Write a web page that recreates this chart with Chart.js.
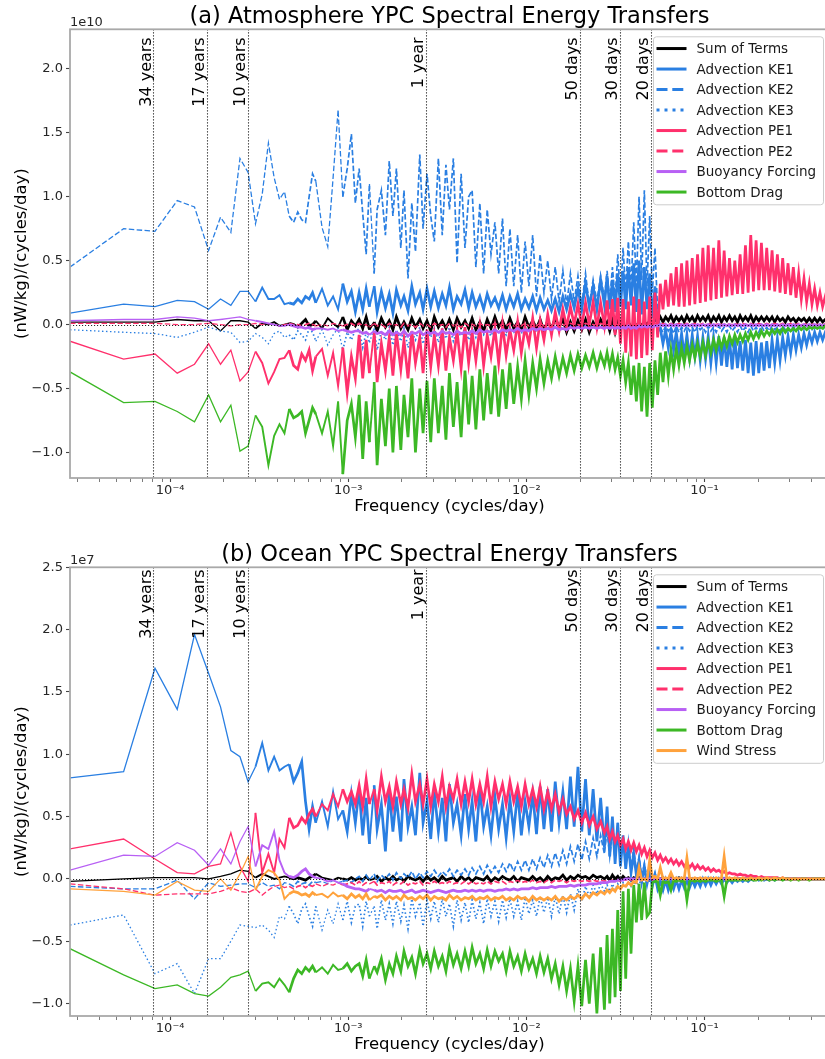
<!DOCTYPE html>
<html lang="en">
<head>
    <meta charset="UTF-8">
    <title>YPC Spectral Energy Transfers</title>
    <script src="https://cdn.jsdelivr.net/npm/chart.js"></script>
    <style>
        body {
            margin: 0;
            background: white;
            overflow: hidden;
        }
        .panel {
            width: 832px;
        }
        canvas {
            display: block;
        }
    </style>
</head>
<body>
    <div class="panel"><canvas id="atmChart" width="832" height="530"></canvas></div>
    <div class="panel"><canvas id="ocnChart" width="832" height="529"></canvas></div>

    <script>
        // frequency bins k (frequency = k / RECORD_DAYS cycles/day), 100-year record
        const RECORD_DAYS = 36500;
        const freqBins = [
            1,2,3,4,5,6,7,8,9,10,11,12,13,14,15,16,17,18,19,20,21,22,23,24,
            26,28,30,32,34,36,38,40,
            42,44,46,48,51,53,56,59,62,65,
            68,72,75,79,83,87,92,96,101,106,
            111,117,123,129,135,142,149,157,165,173,
            181,190,200,210,220,231,243,255,268,281,
            295,310,326,342,359,377,396,416,436,458,
            481,505,530,557,585,614,645,677,711,747,
            784,823,865,908,953,1001,
            1036,1072,1110,1149,1189,1231,1274,1318,1364,1412,
            1462,1513,1566,1620,1677,1736,1797,1859,1924,1992,
            2061,2134,2208,2286,2366,2448,2534,2623,2714,2809,
            2908,3009,3115,3224,3336,3453,3574,3699,3829,3963,
            4101,4245,4393,4547,4706,4871,5041,5218,5400,5589,
            5785,5987,6197,6414,6638,6870,7111,7360,7617,7884,
            8160,8445,8741,9047,9363,9691,10030,10381,10745,11121,
            11510,11913,12330,12761,13208,13670,14148,14643,15156,15686,
            16235,16804,17392,18000,18250
        ];

        // ---- (a) Atmosphere, hundredths of 1e10 (nW/kg)/(cycles/day) ----
        const atmSum = [
            2,2,2,4,3,3,-5,3,3,2,-3,1,0,2,-1,0,1,0,-2,1,4,-1,0,3,
            -3,5,1,-2,6,-4,3,-1,
            4,-3,6,-4,2,-5,5,-2,3,-4,
            6,-3,2,-4,5,-2,4,-3,3,-5,
            6,-2,3,-3,4,-4,5,-2,3,-3,
            5,-4,2,-5,4,-3,6,-2,3,-4,
            5,-3,2,-4,6,-2,3,-3,4,-5,
            3,-3,5,-2,4,-6,2,-5,3,-4,
            4,-6,2,-3,4,-2,
            2,-5,3,-6,2,-4,1,-3,2,-2,
            1,-1,2,-1,2,0,3,1,4,2,
            6,2,6,3,7,2,6,3,6,2,
            7,3,6,2,7,3,6,3,7,2,
            6,3,7,2,6,3,7,3,6,2,
            7,3,6,3,7,2,6,3,6,3,
            6,3,6,2,6,3,5,2,6,3,
            5,2,5,3,5,2,5,2,5,2,
            5,2,4,2,3
        ];
        const atmKE1 = [
            9,16,14,19,18,12,20,15,26,26,18,29,20,20,23,16,17,16,20,17,22,20,25,17,
            28,15,22,12,32,18,26,10,
            25,12,28,14,30,10,26,13,24,9,
            27,15,22,11,30,16,25,12,28,14,
            26,13,24,15,29,12,22,16,27,13,
            25,14,22,12,24,15,21,13,23,12,
            22,14,24,12,20,13,22,11,21,12,
            19,11,20,10,22,12,24,13,28,12,
            32,14,30,12,35,15,
            38,12,35,10,40,14,42,12,45,15,
            48,10,50,8,45,12,40,5,30,-5,
            -3,-15,-4,-18,-5,-20,-6,-22,-7,-24,
            -8,-26,-8,-25,-9,-28,-10,-27,-9,-30,
            -10,-30,-9,-32,-10,-33,-11,-35,-10,-34,
            -13,-36,-12,-38,-14,-40,-13,-38,-14,-36,
            -13,-34,-12,-30,-11,-28,-10,-24,-9,-22,
            -8,-20,-8,-18,-7,-16,-7,-14,-6,-13,
            -6,-12,-6,-11,-8
        ];
        const atmKE2 = [
            45,75,73,97,92,58,84,72,130,119,79,102,142,115,98,104,85,80,88,82,80,100,118,112,
            76,61,115,168,100,122,149,95,
            122,87,55,110,40,90,105,70,128,85,
            122,60,105,36,95,57,133,75,118,85,
            65,130,70,125,90,130,48,118,60,100,
            105,45,95,40,90,55,80,40,83,30,
            75,30,70,25,65,30,70,22,55,25,
            50,20,45,18,42,15,40,18,38,15,
            40,15,35,18,38,20,
            42,18,45,20,55,22,60,25,65,28,
            80,30,100,35,105,30,85,25,60,10,
            -2,-6,-1,-5,-2,-7,-1,-6,-2,-5,
            -1,-5,-2,-6,-1,-4,-2,-6,-1,-5,
            -2,-6,-1,-5,-2,-6,-1,-5,-2,-6,
            -1,-5,-2,-6,-1,-5,-2,-6,-1,-5,
            -2,-5,-1,-4,-2,-5,-1,-4,-2,-5,
            -1,-4,-2,-4,-1,-4,-2,-4,-1,-3,
            -2,-4,-1,-3,-2
        ];
        const atmKE3 = [
            -4,-6,-7,-10,-6,-2,-5,-6,-14,-13,-7,-10,-15,-7,-5,-10,-8,-12,-5,-8,-12,-3,-6,-13,
            -4,-16,-8,-3,-20,-6,-12,-4,
            -4,-18,-6,-14,-3,-20,-5,-12,-2,-16,
            -4,-13,-3,-18,-6,-12,-2,-15,-5,-10,
            -3,-14,-4,-11,-2,-13,-5,-9,-3,-12,
            -3,-10,-2,-8,-4,-9,-2,-7,-3,-8,
            -2,-6,-3,-7,-1,-5,-2,-6,-1,-4,
            -2,-4,-1,-3,-2,-4,-1,-3,-1,-2,
            -1,-3,0,-2,-1,-2,
            -1,-2,-1,-2,-1,-2,-1,-2,-1,-2,
            -1,-2,-1,-2,-1,-2,-1,-2,-1,-1,
            0,-1,0,-1,0,-1,0,-1,0,-1,
            0,-1,0,-1,0,-1,0,-1,0,-1,
            0,-1,0,-1,0,-1,0,-1,0,-1,
            0,-1,0,-1,0,-1,0,-1,0,-1,
            0,-1,0,-1,0,-1,0,-1,0,-1,
            0,-1,0,-1,0,-1,0,-1,0,-1,
            0,-1,0,-1,0
        ];
        const atmPE1 = [
            -13,-27,-23,-38,-31,-15,-31,-20,-44,-37,-21,-30,-46,-37,-27,-26,-20,-32,-35,-23,-28,-20,-36,-25,
            -19,-40,-22,-48,-18,-53,-25,-42,
            -8,-42,-12,-38,-5,-45,-15,-36,-10,-40,
            -6,-35,-12,-42,-5,-30,-10,-38,-4,-33,
            -8,-32,-3,-36,-10,-28,-5,-34,-2,-30,
            -6,-28,-2,-32,-8,-25,-3,-30,0,-24,
            -4,-20,2,-22,-2,-15,5,-18,3,-12,
            8,-8,10,-5,12,-2,14,0,16,-1,
            17,0,18,-2,17,-1,
            19,-3,20,-8,21,-15,20,-22,18,-25,
            22,-27,20,-26,18,-24,22,-20,25,-10,
            32,12,35,14,40,15,45,14,48,14,
            50,15,52,16,55,17,60,18,62,19,
            60,20,66,21,58,22,52,23,50,24,
            55,24,62,25,70,26,66,27,64,27,
            60,27,58,26,55,25,52,24,48,23,
            45,21,40,20,36,18,32,16,28,15,
            25,14,22,13,17
        ];
        const atmPE2 = [
            1,1,1,0,0,1,0,-1,0,0,1,0,1,0,-1,0,1,0,0,-1,0,1,0,-1,
            0,-1,1,0,-1,0,1,-1,
            1,-1,0,-2,1,-1,0,-2,1,-1,
            0,-2,1,-1,0,-2,1,-1,0,-2,
            1,-1,0,-2,1,-1,0,-2,1,-1,
            0,-1,1,-1,0,-1,1,-1,0,-1,
            1,-1,0,-1,1,-1,0,-1,1,-1,
            0,-1,1,0,0,-1,1,0,0,-1,
            1,0,0,-1,1,0,
            0,-1,1,0,0,-1,1,0,0,-1,
            1,0,0,-1,1,0,0,-1,1,0,
            0,1,0,0,1,0,0,1,0,0,
            1,0,0,1,0,0,1,0,0,1,
            0,0,1,0,0,1,0,0,1,0,
            0,1,0,0,1,0,0,1,0,0,
            1,0,0,1,0,0,1,0,0,1,
            0,0,1,0,0,1,0,0,1,0,
            0,1,0,0,1
        ];
        const atmBuoy = [
            3,4,4,6,5,3,4,5,6,4,3,2,1,0,-1,-1,0,-1,-2,-2,-3,-2,-4,-3,
            -3,-4,-3,-5,-4,-5,-6,-5,
            -5,-7,-6,-8,-5,-7,-6,-8,-5,-8,
            -6,-8,-5,-9,-6,-7,-5,-8,-6,-7,
            -6,-8,-5,-7,-6,-8,-5,-7,-6,-7,
            -5,-7,-4,-6,-5,-6,-4,-6,-4,-5,
            -4,-5,-3,-5,-4,-5,-3,-4,-3,-4,
            -3,-4,-2,-4,-3,-4,-2,-3,-2,-3,
            -2,-3,-2,-3,-2,-3,
            -2,-3,-2,-3,-2,-3,-2,-3,-1,-3,
            -2,-3,-1,-2,-1,-2,-1,-2,-1,-1,
            0,-1,0,-1,0,-1,0,-1,0,-1,
            0,-1,0,-1,0,-1,0,-1,0,-1,
            0,-1,0,-1,0,-1,0,-1,0,-1,
            0,-1,0,-1,0,-1,0,-1,0,-1,
            0,-1,0,-1,0,-1,0,-1,0,-1,
            0,-1,0,-1,0,-1,0,-1,0,-1,
            0,-1,0,-1,0
        ];
        const atmDrag = [
            -37,-61,-60,-68,-76,-55,-76,-63,-99,-95,-71,-80,-110,-87,-78,-85,-66,-73,-71,-68,-85,-75,-65,-70,
            -85,-68,-95,-60,-117,-75,-62,-88,
            -55,-105,-60,-92,-45,-110,-58,-95,-50,-100,
            -48,-98,-55,-88,-42,-100,-50,-85,-44,-92,
            -42,-85,-48,-90,-38,-80,-45,-88,-36,-78,
            -40,-82,-35,-75,-38,-70,-32,-72,-35,-66,
            -30,-62,-33,-58,-28,-55,-30,-50,-27,-46,
            -28,-42,-25,-40,-26,-38,-24,-36,-23,-34,
            -24,-33,-22,-34,-23,-32,
            -22,-33,-23,-35,-26,-40,-28,-45,-30,-55,
            -32,-60,-30,-68,-33,-72,-30,-65,-28,-55,
            -22,-45,-21,-40,-20,-35,-19,-32,-18,-30,
            -17,-28,-16,-26,-15,-25,-14,-24,-13,-22,
            -12,-20,-11,-18,-10,-17,-9,-15,-8,-14,
            -8,-13,-7,-12,-6,-11,-6,-10,-5,-9,
            -5,-8,-4,-7,-4,-7,-3,-6,-3,-5,
            -3,-5,-2,-4,-2,-4,-2,-3,-2,-3,
            -2,-3,-1,-2,-2
        ];

        // ---- (b) Ocean, hundredths of 1e7 (nW/kg)/(cycles/day) ----
        const ocnSum = [
            -2,0,1,1,1,0,2,4,7,6,1,4,2,0,1,2,1,0,1,0,-1,1,2,4,
            1,0,-1,1,0,-1,1,-1,
            1,-1,2,-1,0,2,-2,1,-1,2,
            -1,1,-2,2,0,-1,1,-2,2,-1,
            1,-2,2,-1,0,1,-2,2,-1,1,
            -2,1,0,-1,2,-2,1,-1,2,0,
            -1,2,-2,1,0,-1,2,-1,1,-2,
            2,-1,1,0,3,-1,2,0,3,1,
            2,0,3,1,2,0,
            2,-1,3,0,2,-1,2,0,1,-1,
            1,0,1,-1,0,1,-1,0,1,0,
            0,1,0,0,1,0,0,1,0,0,
            0,0,0,0,0,0,0,0,0,0,
            0,0,0,0,0,0,0,0,0,0,
            0,0,0,0,0,0,0,0,0,0,
            0,0,0,0,0,0,0,0,0,0,
            0,0,0,0,0,0,0,0,0,0,
            0,0,0,0,0
        ];
        const ocnKE1 = [
            81,86,169,136,196,165,138,103,98,78,90,109,87,98,87,90,92,78,85,94,62,40,58,45,
            62,42,70,48,55,38,68,45,
            72,35,65,28,75,40,60,22,70,38,
            66,30,80,42,58,35,85,45,62,32,
            70,38,65,30,76,45,60,35,68,40,
            62,30,72,42,58,35,66,40,60,33,
            64,38,70,35,62,42,68,36,74,40,
            72,38,78,45,70,40,82,42,90,38,
            80,35,72,30,65,25,
            58,18,50,12,45,10,35,8,28,5,
            20,3,15,-2,10,-4,6,-6,3,-8,
            -2,-9,-1,-9,-2,-8,-1,-8,-1,-7,
            -1,-7,-1,-6,-1,-6,0,-5,0,-5,
            0,-4,0,-4,0,-3,0,-3,0,-2,
            0,-2,0,-2,0,-1,0,-1,0,-1,
            0,-1,0,-1,0,0,0,0,0,0,
            0,0,0,0,0,0,0,0,0,0,
            0,0,0,0,0
        ];
        const ocnKE2 = [
            -6,-8,-8,-1,-16,-3,-6,-5,-4,-4,-7,-3,-6,-5,-8,-3,-4,-6,-2,-4,-3,-5,-2,-3,
            -2,-4,-1,-3,-2,-1,-3,0,
            2,-2,3,-1,4,-2,3,0,4,-1,
            5,0,4,1,6,0,5,1,6,2,
            7,2,6,3,8,2,7,3,8,3,
            9,4,10,4,11,5,10,5,12,6,
            13,6,14,7,15,7,16,8,17,9,
            19,10,21,11,23,12,26,14,28,15,
            30,16,33,18,35,20,
            40,18,38,15,45,12,35,10,30,8,
            25,5,18,2,12,0,8,-1,5,-2,
            -1,-3,-1,-3,-1,-2,-1,-2,-1,-2,
            -1,-2,-1,-2,-1,-2,-1,-2,-1,-2,
            0,-1,0,-1,0,-1,0,-1,0,-1,
            0,-1,0,-1,0,-1,0,-1,0,-1,
            0,0,0,0,0,0,0,0,0,0,
            0,0,0,0,0,0,0,0,0,0,
            0,0,0,0,0
        ];
        const ocnKE3 = [
            -37,-29,-76,-68,-92,-64,-64,-50,-37,-38,-39,-37,-41,-47,-30,-32,-22,-28,-36,-24,-20,-30,-38,-22,
            -41,-25,-36,-20,-33,-18,-35,-22,
            -20,-38,-18,-30,-22,-40,-17,-33,-20,-36,
            -18,-34,-21,-40,-16,-30,-19,-38,-17,-32,
            -18,-35,-16,-30,-20,-38,-17,-33,-19,-35,
            -17,-32,-19,-36,-16,-30,-18,-34,-17,-31,
            -16,-30,-18,-33,-15,-28,-17,-30,-14,-27,
            -15,-30,-14,-28,-13,-27,-12,-25,-8,-18,
            -6,-14,-5,-12,-4,-10,
            -5,-10,-4,-9,-4,-8,-3,-7,-3,-6,
            -2,-5,-2,-4,-2,-3,-1,-3,-1,-2,
            -1,0,-1,0,-1,0,-1,0,-1,0,
            -1,0,-1,0,-1,0,-1,0,-1,0,
            0,0,0,0,0,0,0,0,0,0,
            0,0,0,0,0,0,0,0,0,0,
            0,0,0,0,0,0,0,0,0,0,
            0,0,0,0,0,0,0,0,0,0,
            0,0,0,0,0
        ];
        const ocnPE1 = [
            24,32,16,5,4,10,12,37,10,-2,53,5,20,5,32,25,49,41,43,49,45,52,56,50,
            60,55,68,58,72,62,70,60,
            75,58,80,60,72,55,82,62,74,58,
            78,60,72,57,84,62,76,60,80,58,
            76,62,82,58,74,64,80,60,78,62,
            80,60,76,62,82,58,78,64,76,60,
            78,62,74,58,76,60,72,58,74,56,
            70,56,68,54,64,52,58,48,55,45,
            53,43,50,40,46,37,
            42,32,38,30,35,27,32,24,30,23,
            29,22,27,20,25,18,23,17,21,15,
            19,14,17,13,16,12,15,11,14,10,
            13,9,12,8,11,8,10,7,9,6,
            8,6,7,5,6,4,5,4,4,3,
            4,3,3,2,3,2,2,1,2,1,
            1,1,1,1,1,0,1,0,0,0,
            0,0,0,0,0,0,0,0,0,0,
            0,0,0,0,0
        ];
        const ocnPE2 = [
            -4,-8,-13,-12,-12,-12,-10,-7,-10,-11,-8,-13,-9,-6,-5,-7,-6,-8,-6,-5,-7,-5,-6,-4,
            -6,-4,-5,-3,-5,-4,-3,-5,
            -2,-5,-3,-4,-2,-5,-3,-4,-2,-5,
            -3,-4,-2,-5,-3,-4,-2,-5,-3,-4,
            -2,-4,-3,-4,-2,-4,-3,-4,-2,-4,
            -2,-4,-3,-4,-2,-4,-2,-3,-2,-4,
            -2,-3,-1,-3,-2,-3,-1,-3,-2,-3,
            -1,-3,-1,-2,-1,-3,-1,-2,-1,-2,
            -1,-2,-1,-2,-1,-2,
            -1,-2,-1,-2,-1,-2,-1,-1,0,-1,
            0,-1,0,-1,0,-1,0,-1,0,0,
            0,0,0,0,0,0,0,0,0,0,
            0,0,0,0,0,0,0,0,0,0,
            0,0,0,0,0,0,0,0,0,0,
            0,0,0,0,0,0,0,0,0,0,
            0,0,0,0,0,0,0,0,0,0,
            0,0,0,0,0,0,0,0,0,0,
            0,0,0,0,0
        ];
        const ocnBuoy = [
            7,19,18,29,23,11,24,12,30,42,10,27,24,38,15,5,2,1,3,6,8,4,2,1,
            0,-2,-1,-3,-4,-6,-7,-8,
            -8,-9,-10,-8,-9,-10,-9,-11,-9,-10,
            -10,-9,-11,-10,-9,-11,-10,-9,-10,-11,
            -10,-9,-10,-11,-10,-9,-10,-10,-9,-10,
            -9,-10,-9,-10,-9,-9,-10,-9,-9,-8,
            -9,-8,-9,-8,-8,-8,-7,-8,-7,-7,
            -7,-6,-7,-6,-6,-6,-5,-6,-5,-5,
            -5,-4,-4,-4,-3,-3,
            -3,-2,-2,-2,-1,-1,-1,0,0,0,
            0,0,0,0,0,0,0,0,0,0,
            0,0,0,0,0,0,0,0,0,0,
            0,0,0,0,0,0,0,0,0,0,
            0,0,0,0,0,0,0,0,0,0,
            0,0,0,0,0,0,0,0,0,0,
            0,0,0,0,0,0,0,0,0,0,
            0,0,0,0,0,0,0,0,0,0,
            0,0,0,0,0
        ];
        const ocnDrag = [
            -56,-77,-88,-85,-92,-94,-87,-79,-77,-74,-90,-84,-83,-87,-80,-85,-91,-80,-73,-76,-71,-74,-70,-75,
            -71,-76,-69,-73,-72,-68,-74,-70,
            -68,-78,-65,-80,-70,-75,-64,-81,-68,-76,
            -62,-74,-58,-70,-63,-76,-57,-68,-60,-72,
            -58,-70,-62,-74,-56,-69,-60,-72,-58,-70,
            -55,-68,-60,-72,-57,-70,-58,-66,-60,-74,
            -58,-70,-62,-74,-60,-72,-64,-76,-62,-75,
            -64,-80,-68,-85,-70,-90,-72,-98,-70,-102,
            -65,-100,-60,-108,-55,-105,
            -45,-100,-40,-95,-25,-90,-10,-80,-8,-60,
            -5,-35,-4,-33,-3,-30,-27,-3,-2,-2,
            -13,-2,-3,-2,-9,-1,-2,-1,-2,-1,
            -17,-2,-1,-2,-1,-2,-1,-2,-1,-1,
            -1,-2,-1,-1,-14,-1,-1,-1,-1,-1,
            -1,0,-1,-1,0,-1,-1,0,-1,0,
            0,-1,0,-1,0,0,-1,0,0,-1,
            0,0,-1,0,0,0,-1,0,0,0,
            0,0,0,0,0
        ];
        const ocnWind = [
            -8,-10,-13,-2,-9,-10,0,-9,4,18,-9,2,7,5,-1,-16,-12,-10,-11,-13,-12,-14,-11,-13,
            -12,-15,-11,-14,-13,-16,-12,-15,
            -13,-16,-12,-17,-14,-15,-13,-17,-14,-16,
            -14,-17,-13,-16,-15,-17,-14,-16,-13,-17,
            -14,-16,-15,-17,-13,-16,-14,-17,-15,-16,
            -14,-17,-15,-16,-14,-17,-15,-16,-14,-17,
            -15,-17,-14,-16,-15,-18,-14,-17,-15,-17,
            -15,-17,-14,-18,-15,-17,-14,-16,-13,-16,
            -12,-15,-11,-13,-10,-12,
            -9,-11,-8,-10,-6,-8,-5,-6,-3,-5,
            -2,-3,9,-1,0,-1,15,1,2,0,
            9,0,1,0,5,0,1,0,1,0,
            17,1,0,1,0,1,0,1,0,1,
            0,1,0,1,18,0,1,0,1,0,
            0,1,0,0,1,0,0,1,0,0,
            1,0,0,1,0,0,1,0,0,0,
            0,0,0,0,0,0,0,0,0,0,
            0,0,0,0,0
        ];

        // reference periods (days) marked with dotted lines
        const markerDays = [12410, 6205, 3650, 365, 50, 30, 20];
        const markerLabels = ["34 years", "17 years", "10 years", "1 year", "50 days", "30 days", "20 days"];

        const xMajorTicks = [1e-4, 1e-3, 1e-2, 1e-1];
        const xMajorLabels = ["10\u207B\u2074", "10\u207B\u00B3", "10\u207B\u00B2", "10\u207B\u00B9"];

        const FONT = "DejaVu Sans";
        const BLUE = "#2a7fe2", PINK = "#ff306c", PURPLE = "#b860f4", GREEN = "#3cb825", ORANGE = "#ffa23c";

        const atmSeries = [
            {label: "Sum of Terms", values: atmSum, color: "#000000", style: "solid"},
            {label: "Advection KE1", values: atmKE1, color: BLUE, style: "solid"},
            {label: "Advection KE2", values: atmKE2, color: BLUE, style: "dashed"},
            {label: "Advection KE3", values: atmKE3, color: BLUE, style: "dotted"},
            {label: "Advection PE1", values: atmPE1, color: PINK, style: "solid"},
            {label: "Advection PE2", values: atmPE2, color: PINK, style: "dashed"},
            {label: "Buoyancy Forcing", values: atmBuoy, color: PURPLE, style: "solid"},
            {label: "Bottom Drag", values: atmDrag, color: GREEN, style: "solid"}
        ];
        const ocnSeries = [
            {label: "Sum of Terms", values: ocnSum, color: "#000000", style: "solid"},
            {label: "Advection KE1", values: ocnKE1, color: BLUE, style: "solid"},
            {label: "Advection KE2", values: ocnKE2, color: BLUE, style: "dashed"},
            {label: "Advection KE3", values: ocnKE3, color: BLUE, style: "dotted"},
            {label: "Advection PE1", values: ocnPE1, color: PINK, style: "solid"},
            {label: "Advection PE2", values: ocnPE2, color: PINK, style: "dashed"},
            {label: "Buoyancy Forcing", values: ocnBuoy, color: PURPLE, style: "solid"},
            {label: "Bottom Drag", values: ocnDrag, color: GREEN, style: "solid"},
            {label: "Wind Stress", values: ocnWind, color: ORANGE, style: "solid"}
        ];

        const lineDash = {solid: [], dashed: [5.5, 2.4], dotted: [1.5, 2.5]};
        const legendDash = {solid: [], dashed: [11, 4.8], dotted: [3, 5]};

        function toPoints(values) {
            if (values.length !== freqBins.length) {
                throw new Error("series length " + values.length + " != " + freqBins.length);
            }
            return freqBins.map((k, i) => ({x: k / RECORD_DAYS, y: values[i] / 100}));
        }

        function buildXTicks(min, max) {
            const ticks = [];
            const decades = [1e-5].concat(xMajorTicks);
            decades.forEach(d => {
                for (let m = 1; m <= 9; m++) {
                    const v = m * d;
                    if (v >= min && v <= max) {
                        const idx = m === 1 ? xMajorTicks.indexOf(d) : -1;
                        ticks.push({value: v, major: idx >= 0, label: idx >= 0 ? xMajorLabels[idx] : ""});
                    }
                }
            });
            return ticks;
        }

        // where the spectrum is dense the original looks almost filled: draw those stretches heavier
        function segmentWidth(style) {
            return ctx => {
                const dx = Math.abs(ctx.p1.x - ctx.p0.x);
                if (style === "solid") {
                    if (dx < 4.5) return 2.7;
                    if (dx < 7) return 1.9;
                } else if (dx < 4.5) {
                    return 1.7;
                }
                return undefined;
            };
        }

        // dotted reference lines, labels, spines, offset text and the boxed legend
        const decorations = {
            id: "decorations",
            afterDatasetsDraw(chart, args, opts) {
                const {ctx, chartArea: a, scales: {x, y}} = chart;
                ctx.save();
                ctx.strokeStyle = "rgba(0,0,0,0.85)";
                ctx.lineWidth = 1.1;
                ctx.setLineDash([1.1, 1.9]);
                const y0 = Math.round(y.getPixelForValue(0)) + 0.5;
                ctx.beginPath();
                ctx.moveTo(a.left, y0);
                ctx.lineTo(a.right, y0);
                ctx.stroke();
                markerDays.forEach(d => {
                    const px = Math.round(x.getPixelForValue(1 / d)) + 0.5;
                    ctx.beginPath();
                    ctx.moveTo(px, a.top);
                    ctx.lineTo(px, a.bottom);
                    ctx.stroke();
                });
                ctx.setLineDash([]);

                ctx.fillStyle = "#000";
                ctx.font = "16px '" + FONT + "'";
                ctx.textAlign = "right";
                ctx.textBaseline = "bottom";
                markerDays.forEach((d, i) => {
                    const px = x.getPixelForValue(1 / d);
                    ctx.save();
                    ctx.translate(px + 1, a.top + opts.labelTop);
                    ctx.rotate(-Math.PI / 2);
                    ctx.fillText(markerLabels[i], 0, 0);
                    ctx.restore();
                });

                ctx.strokeStyle = "#a9a9a9";
                ctx.lineWidth = 1.8;
                ctx.strokeRect(a.left, a.top, a.right - a.left, a.bottom - a.top);

                ctx.font = "13px '" + FONT + "'";
                ctx.textAlign = "left";
                ctx.textBaseline = "alphabetic";
                ctx.fillStyle = "#262626";
                ctx.fillText(opts.offsetText, a.left, a.top - 3);
                ctx.restore();
            },
            afterDraw(chart) {
                const {ctx, chartArea: a} = chart;
                const items = chart.data.datasets;
                const boxW = 170, rowH = 20.5, padY = 2;
                const bx = a.right - 6 - boxW, by = a.top + 7;
                const bh = items.length * rowH + 2 * padY;
                ctx.save();
                ctx.fillStyle = "rgba(255,255,255,0.8)";
                ctx.strokeStyle = "#cccccc";
                ctx.lineWidth = 1;
                ctx.beginPath();
                ctx.roundRect(bx + 0.5, by + 0.5, boxW, bh, 3);
                ctx.fill();
                ctx.stroke();
                ctx.font = "13.5px '" + FONT + "'";
                ctx.textAlign = "left";
                ctx.textBaseline = "middle";
                items.forEach((ds, i) => {
                    const cy = by + padY + rowH * (i + 0.5);
                    ctx.strokeStyle = ds.borderColor;
                    ctx.lineWidth = 3;
                    ctx.lineCap = "butt";
                    ctx.setLineDash(legendDash[ds.lineStyle]);
                    ctx.beginPath();
                    ctx.moveTo(bx + 3.5, cy);
                    ctx.lineTo(bx + 33.5, cy);
                    ctx.stroke();
                    ctx.setLineDash([]);
                    ctx.fillStyle = "#1a1a1a";
                    ctx.fillText(ds.label, bx + 43.5, cy + 1);
                });
                ctx.restore();
            }
        };

        function buildChart(canvasId, cfg) {
            const xMin = freqBins[0] / RECORD_DAYS;
            const xMax = 0.5;
            const datasets = cfg.series.map((s, i) => ({
                label: s.label,
                data: toPoints(s.values),
                borderColor: s.color,
                backgroundColor: s.color,
                borderWidth: 1.3,
                borderDash: lineDash[s.style],
                segment: {borderWidth: segmentWidth(s.style)},
                lineStyle: s.style,
                pointRadius: 0,
                fill: false,
                tension: 0,
                order: -i
            }));

            return new Chart(document.getElementById(canvasId).getContext("2d"), {
                type: "line",
                data: {datasets: datasets},
                options: {
                    responsive: false,
                    animation: false,
                    devicePixelRatio: 1,
                    parsing: false,
                    normalized: true,
                    layout: {padding: {left: 0, right: 3, top: 0, bottom: 0}},
                    font: {family: FONT},
                    plugins: {
                        legend: {display: false},
                        tooltip: {enabled: false},
                        title: {
                            display: true,
                            text: cfg.title,
                            fullSize: false,
                            color: "#000",
                            font: {family: FONT, size: 22.5, weight: "normal", lineHeight: 1},
                            padding: {top: cfg.titleTop, bottom: cfg.titleBottom}
                        },
                        decorations: {labelTop: cfg.labelTop, offsetText: cfg.offsetText}
                    },
                    scales: {
                        x: {
                            type: "logarithmic",
                            min: xMin,
                            max: xMax,
                            afterBuildTicks: scale => { scale.ticks = buildXTicks(xMin, xMax); },
                            afterFit: scale => { scale.height = cfg.xAxisHeight; },
                            ticks: {
                                autoSkip: false,
                                maxRotation: 0,
                                padding: 1,
                                color: "#262626",
                                font: {family: FONT, size: 13},
                                callback: (value, index, ticks) => ticks[index].label
                            },
                            grid: {
                                drawOnChartArea: false,
                                tickLength: 4,
                                tickColor: "#444",
                                tickWidth: c => (c.tick && c.tick.major ? 1.1 : 0.7)
                            },
                            border: {display: false},
                            title: {
                                display: true,
                                text: "Frequency (cycles/day)",
                                color: "#000",
                                font: {family: FONT, size: 16.5, lineHeight: 1.2},
                                padding: {top: 0, bottom: cfg.xTitlePad}
                            }
                        },
                        y: {
                            min: cfg.yMin,
                            max: cfg.yMax,
                            afterFit: scale => { scale.width = 70; },
                            ticks: {
                                stepSize: 0.5,
                                includeBounds: false,
                                padding: 3,
                                color: "#262626",
                                font: {family: FONT, size: 13},
                                callback: v => (v < 0 ? "\u2212" : "") + Math.abs(v).toFixed(1)
                            },
                            grid: {drawOnChartArea: false, tickLength: 4, tickColor: "#444", tickWidth: 1.1},
                            border: {display: false},
                            title: {
                                display: true,
                                text: "(nW/kg)/(cycles/day)",
                                color: "#000",
                                font: {family: FONT, size: 16.5, lineHeight: 1.2},
                                padding: {top: 12, bottom: 0}
                            }
                        }
                    }
                },
                plugins: [decorations]
            });
        }

        buildChart("atmChart", {
            title: "(a) Atmosphere YPC Spectral Energy Transfers",
            series: atmSeries,
            yMin: -1.2, yMax: 2.31,
            titleTop: 6, titleBottom: 0.8,
            xAxisHeight: 52, xTitlePad: 13,
            labelTop: 8, offsetText: "1e10"
        });

        buildChart("ocnChart", {
            title: "(b) Ocean YPC Spectral Energy Transfers",
            series: ocnSeries,
            yMin: -1.1, yMax: 2.5,
            titleTop: 14, titleBottom: 0.8,
            xAxisHeight: 43, xTitlePad: 4,
            labelTop: 2, offsetText: "1e7"
        });
    </script>
</body>
</html>
